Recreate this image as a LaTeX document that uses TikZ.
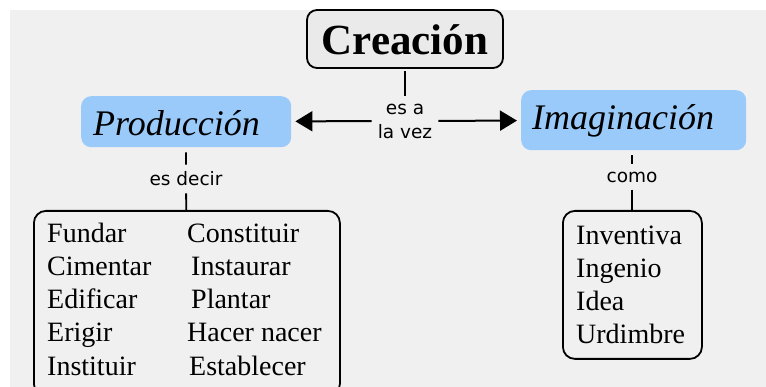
\documentclass[tikz,border=0pt]{standalone}
\usepackage{fontspec}
\setmainfont{Liberation Serif}
\setsansfont{DejaVu Sans}
\usetikzlibrary{arrows.meta}
\definecolor{fondo}{RGB}{240,240,240}
\definecolor{cajagris}{RGB}{234,234,234}
\definecolor{azul}{RGB}{153,202,250}

\tikzset{
  titulo/.style={draw,line width=1.8pt,fill=cajagris,rounded corners=10pt,inner sep=0pt,
    minimum width=196pt,text height=45pt,text depth=13pt,font=\fontsize{43}{48}\selectfont\bfseries},
  concepto/.style={fill=azul,rounded corners=10pt,anchor=north west,inner ysep=0pt,align=left,
    font=\fontsize{36}{40}\selectfont\itshape},
  lista/.style={draw,line width=1.8pt,rounded corners=12pt,anchor=north west,inner sep=0pt},
  palabra/.style={anchor=base west,inner sep=0pt,font=\fontsize{28}{32}\selectfont},
  enlace/.style={font=\sffamily\fontsize{18.5}{24}\selectfont,align=center,inner xsep=6pt,inner ysep=7pt},
  linea/.style={line width=1.8pt},
  flecha/.style={line width=2pt,-{Triangle[length=17pt,width=20pt]},shorten >=4pt}
}

\begin{document}
\begin{tikzpicture}[x=1pt,y=-1pt]
  \useasboundingbox (0,0) rectangle (766,387);
  \fill[white] (0,0) rectangle (766,387);
  \fill[fondo] (10,10) rectangle (766,387);

  % conceptos
  \node[titulo] (crea) at (405,39) {Creación};
  \node[concepto,inner xsep=12pt,text width=186pt,text height=39pt,text depth=12pt] (prod) at (81,96) {Producción};
  \node[concepto,inner xsep=11pt,text width=203pt,text height=39pt,text depth=21pt] (imag) at (521,90) {Imaginación};

  % enlaces
  \node[enlace] (esa) at (405,121) {es a\\la vez};
  \node[enlace] (esdecir) at (186,179) {es decir};
  \node[enlace] (como) at (632,177) {como};

  % listas
  \node[lista,minimum width=306pt,minimum height=185pt] (izq) at (33,210) {};
  \node[lista,minimum width=139pt,minimum height=148pt] (der) at (562,210) {};
  \foreach \txt/\x/\y [count=\i] in {Fundar/47/243,Cimentar/47/276,Edificar/47/309,Erigir/47/342,Instituir/47/375,
      Constituir/187/243,Instaurar/191/276,Plantar/191/309,Hacer nacer/187/342,Establecer/189/375}
    \node[palabra] (pi\i) at (\x,\y) {\txt};
  \foreach \txt/\y [count=\i] in {Inventiva/245,Ingenio/278,Idea/311,Urdimbre/344}
    \node[palabra] (pd\i) at (576,\y) {\txt};

  % conectores
  \draw[linea,shorten <=2pt] (crea) -- (esa);
  \draw[flecha] (esa) -- (prod);
  \draw[flecha] (esa) -- (imag);
  \draw[linea,shorten <=5pt] (prod) -- (esdecir);
  \draw[linea] (esdecir) -- (izq);
  \draw[linea,shorten <=5pt] (como |- imag.south) -- (como);
  \draw[linea] (como) -- (como |- der.north);
\end{tikzpicture}
\end{document}
